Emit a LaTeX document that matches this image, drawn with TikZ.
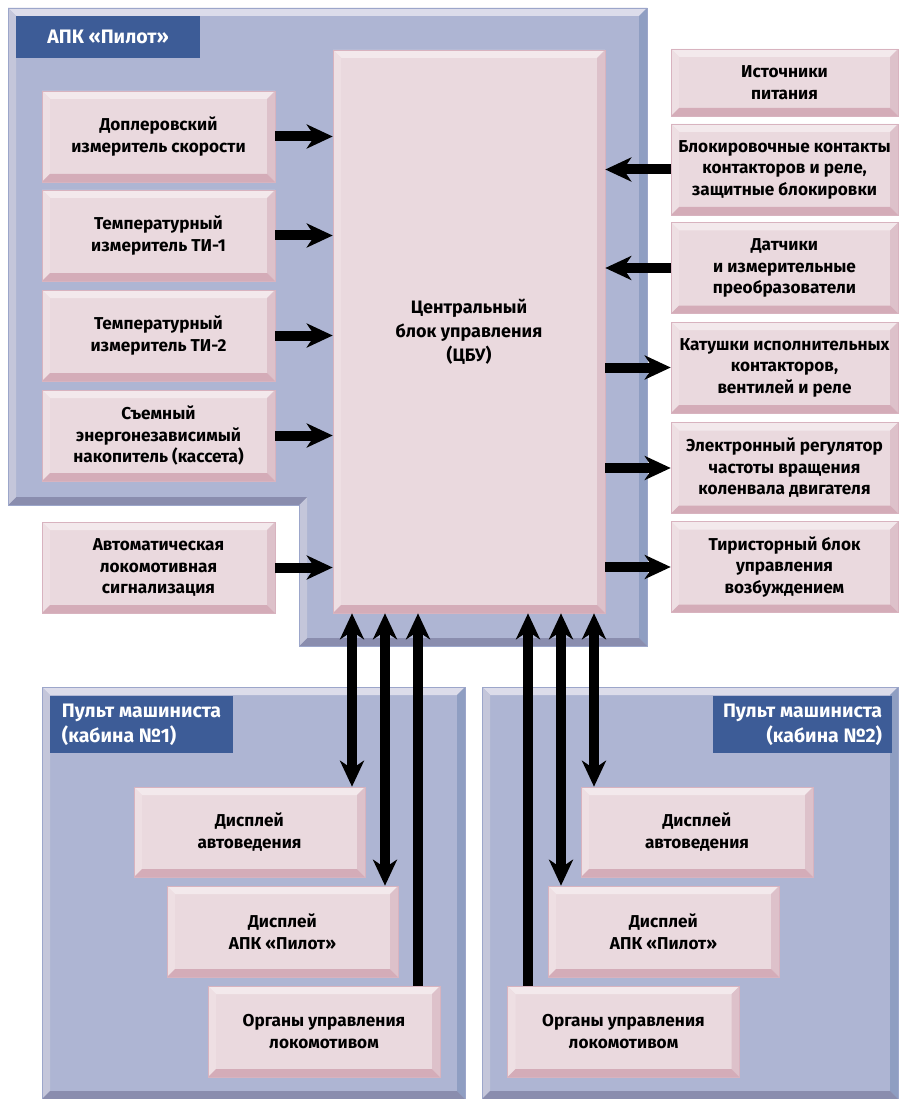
\documentclass[tikz,border=0pt]{standalone}
\usepackage{fontspec}
\setmainfont{Fira Sans}
\usetikzlibrary{arrows.meta, positioning, calc}
\definecolor{boxface}{HTML}{EAD9DE}
\definecolor{boxtop}{HTML}{F3E9EC}
\definecolor{boxleft}{HTML}{EEDFE3}
\definecolor{boxright}{HTML}{DDC1CA}
\definecolor{boxbot}{HTML}{D4ACB8}
\definecolor{boxline}{HTML}{D8B3BF}
\definecolor{panface}{HTML}{AEB5D3}
\definecolor{pantop}{HTML}{DCDCEA}
\definecolor{panleft}{HTML}{C4C6DA}
\definecolor{panright}{HTML}{8F9EC2}
\definecolor{panbot}{HTML}{8A8DAE}
\definecolor{panline}{HTML}{9CA6CA}
\definecolor{tagblue}{HTML}{3D5C97}
\newcommand{\bw}{8pt}
\tikzset{
  bevel/.style n args={5}{fill=#1, inner sep=0pt, align=center,
    path picture={
      \path (path picture bounding box.north west) coordinate (pnw)
            (path picture bounding box.south east) coordinate (pse);
      \fill[#2] (pnw) -- (pnw -| pse) -- ++(-\bw,-\bw) -- ($(pnw)+(\bw,-\bw)$) -- cycle;
      \fill[#3] (pnw) -- (pnw |- pse) -- ++(\bw,\bw) -- ($(pnw)+(\bw,-\bw)$) -- cycle;
      \fill[#4] (pnw -| pse) -- (pse) -- ++(-\bw,\bw) -- ($(pnw -| pse)+(-\bw,-\bw)$) -- cycle;
      \fill[#5] (pnw |- pse) -- (pse) -- ++(-\bw,\bw) -- ($(pnw |- pse)+(\bw,\bw)$) -- cycle;
    }},
  unit/.style={bevel={boxface}{boxtop}{boxleft}{boxright}{boxbot}, draw=boxline, line width=0.6pt,
    minimum width=233pt, minimum height=91pt, font=\bfseries\fontsize{17.2}{21.5}\selectfont},
  cabin/.style={bevel={panface}{pantop}{panleft}{panright}{panbot}, draw=panline, line width=0.6pt},
  tag/.style={fill=tagblue, text=white, inner sep=0pt, font=\bfseries\fontsize{19.5}{25}\selectfont},
  arr/.style={line width=10pt, -{Stealth[length=26pt,width=24pt,inset=8pt]}},
  dbl/.style={line width=10pt, {Stealth[length=26pt,width=24pt,inset=8pt]}-{Stealth[length=26pt,width=24pt,inset=8pt]}}
}

\begin{document}
\begin{tikzpicture}[x=1pt, y=-1pt]
  \useasboundingbox (0,0) rectangle (898,1099);

  % panel of the APK (L-shaped)
  \fill[panface] (8,8) -- (647,8) -- (647,646) -- (299,646) -- (299,505) -- (8,505) -- cycle;
  \fill[pantop] (8,8) -- (647,8) -- (639,16) -- (16,16) -- cycle;
  \fill[panright] (647,8) -- (647,646) -- (639,638) -- (639,16) -- cycle;
  \fill[panbot] (647,646) -- (299,646) -- (307,638) -- (639,638) -- cycle;
  \fill[panleft] (299,646) -- (299,505) -- (307,497) -- (307,638) -- cycle;
  \fill[panbot] (299,505) -- (8,505) -- (16,497) -- (307,497) -- cycle;
  \fill[panleft] (8,505) -- (8,8) -- (16,16) -- (16,497) -- cycle;
  \draw[panline, line width=0.6pt] (8,8) -- (647,8) -- (647,646) -- (299,646) -- (299,505) -- (8,505) -- cycle;
  \node[tag, minimum width=184pt, minimum height=42pt] (apk) at (108,37) {АПК «Пилот»};

  % cabins
  \node[cabin, minimum width=423pt, minimum height=412pt] (cab1) at (253.5,893) {};
  \node[cabin, minimum width=416pt, minimum height=412pt] (cab2) at (690,893) {};
  \node[tag, minimum width=183pt, minimum height=57pt, align=left] (t1) at (141.5,724.5) {Пульт машиниста\\(кабина №1)};
  \node[tag, minimum width=179pt, minimum height=57pt, align=right] (t2) at (802.5,724.5) {Пульт машиниста\\(кабина №2)};

  % central unit
  \node[unit, minimum width=272pt, minimum height=563pt, font=\bfseries\fontsize{18}{24}\selectfont] (cbu) at (469,331.5)
    {Центральный\\блок управления\\(ЦБУ)};

  % inputs on the left
  \node[unit] (dop) at (158.5,136.5) {Доплеровский\\измеритель скорости};
  \node[unit] (ti1) at (158.5,235.5) {Температурный\\измеритель ТИ-1};
  \node[unit] (ti2) at (158.5,335.5) {Температурный\\измеритель ТИ-2};
  \node[unit] (kas) at (158.5,435.5) {Съемный\\энергонезависимый\\накопитель (кассета)};
  \node[unit] (als) at (158.5,567.5) {Автоматическая\\локомотивная\\сигнализация};

  % right column
  \node[unit, minimum width=227pt, minimum height=67pt] (ist) at (784.5,82.5) {Источники\\питания};
  \node[unit, minimum width=227pt] (blk) at (784.5,169.5) {Блокировочные контакты\\контакторов и реле,\\защитные блокировки};
  \node[unit, minimum width=227pt] (dat) at (784.5,268) {Датчики\\и измерительные\\преобразователи};
  \node[unit, minimum width=227pt] (kat) at (784.5,367.5) {Катушки исполнительных\\контакторов,\\вентилей и реле};
  \node[unit, minimum width=227pt] (reg) at (784.5,468) {Электронный регулятор\\частоты вращения\\коленвала двигателя};
  \node[unit, minimum width=227pt] (tir) at (784.5,567) {Тиристорный блок\\управления\\возбуждением};

  % cabin units
  \node[unit, minimum width=231pt, minimum height=90pt] (da1) at (249.5,832) {Дисплей\\автоведения};
  \node[unit, minimum width=231pt, minimum height=91pt] (dp1) at (282.5,931.5) {Дисплей\\АПК «Пилот»};
  \node[unit, minimum width=232pt, minimum height=91pt] (ou1) at (324,1031.5) {Органы управления\\локомотивом};
  \node[unit, minimum width=232pt, minimum height=90pt] (da2) at (697,832) {Дисплей\\автоведения};
  \node[unit, minimum width=231pt, minimum height=91pt] (dp2) at (663.5,931.5) {Дисплей\\АПК «Пилот»};
  \node[unit, minimum width=232pt, minimum height=91pt] (ou2) at (623.5,1031.5) {Органы управления\\локомотивом};

  % links
  \foreach \src in {dop,ti1,ti2,kas,als}
    \draw[arr] (\src.east) -- (\src.east -| cbu.west);
  \foreach \src in {blk,dat}
    \draw[arr] (\src.west) -- (\src.west -| cbu.east);
  \foreach \dst in {kat,reg,tir}
    \draw[arr] (\dst.west -| cbu.east) -- (\dst.west);

  \coordinate (v1) at (352,0);
  \coordinate (v2) at (385,0);
  \coordinate (v3) at (418,0);
  \coordinate (v4) at (528,0);
  \coordinate (v5) at (561,0);
  \coordinate (v6) at (594,0);
  \draw[dbl] (cbu.south -| v1) -- (da1.north -| v1);
  \draw[dbl] (cbu.south -| v2) -- (dp1.north -| v2);
  \draw[arr] (ou1.north -| v3) -- (cbu.south -| v3);
  \draw[arr] (ou2.north -| v4) -- (cbu.south -| v4);
  \draw[dbl] (cbu.south -| v5) -- (dp2.north -| v5);
  \draw[dbl] (cbu.south -| v6) -- (da2.north -| v6);
\end{tikzpicture}
\end{document}
